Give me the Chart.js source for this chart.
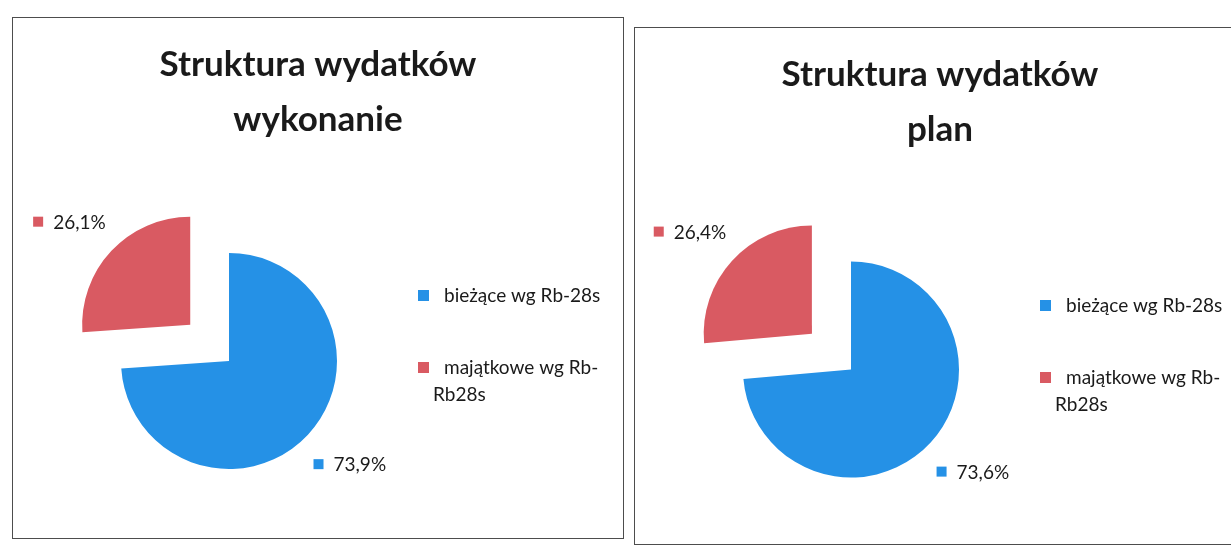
<!DOCTYPE html>
<html>
<head>
<meta charset="utf-8">
<script src="https://cdn.jsdelivr.net/npm/chart.js@4.4.1/dist/chart.umd.min.js"></script>
<style>
  body { margin: 0; background: #fff; width: 1231px; height: 545px; overflow: hidden; position: relative; }
  .panel { position: absolute; border: 1.5px solid #4d4d4d; background: #fff; }
  #p1 { left: 12px; top: 17px; width: 610px; height: 520px; }
  #p2 { left: 634px; top: 27px; width: 610px; height: 516px; }
  canvas { display: block; }
</style>
</head>
<body>
<div class="panel" id="p1"><canvas id="chart1" width="610" height="520"></canvas></div>
<div class="panel" id="p2"><canvas id="chart2" width="610" height="516"></canvas></div>
<script>
// categories (legend) and values for both charts
const categories = ["bieżące wg Rb-28s", "majątkowe wg Rb-Rb28s"];
const legendLines = [["bieżące wg Rb-28s"], ["majątkowe wg Rb-", "Rb28s"]];
const wykonanie = [73.9, 26.1];
const plan = [73.6, 26.4];
const titles = [["Struktura wydatków", "wykonanie"], ["Struktura wydatków", "plan"]];
const colors = ["#2591e6", "#d95a62"];

const FONT = "Lato, 'Open Sans', sans-serif";

// two-line title centred on the whole panel
const panelTitle = {
  id: "panelTitle",
  afterDraw(chart, args, opts) {
    const ctx = chart.ctx;
    ctx.save();
    ctx.font = "bold 35px " + FONT;
    ctx.fillStyle = "#1a1a1a";
    ctx.textAlign = "center";
    ctx.textBaseline = "alphabetic";
    opts.lines.forEach((t, i) => ctx.fillText(t, chart.width / 2, 58 + i * 55));
    ctx.restore();
  }
};

// percentage labels with a colour key, placed along each slice's middle
const sliceLabels = {
  id: "sliceLabels",
  afterDatasetsDraw(chart) {
    const ctx = chart.ctx;
    const meta = chart.getDatasetMeta(0);
    const values = chart.data.datasets[0].data;
    ctx.save();
    ctx.font = "19px " + FONT;
    ctx.textBaseline = "middle";
    meta.data.forEach((arc, i) => {
      const p = arc.getProps(["x", "y", "startAngle", "endAngle", "outerRadius"], true);
      const mid = (p.startAngle + p.endAngle) / 2;
      const off = (arc.options.offset || 0) / 4;
      const cx = p.x + Math.cos(mid) * off;
      const cy = p.y + Math.sin(mid) * off;
      const lx = cx + Math.cos(mid) * p.outerRadius * 1.53;
      const ly = cy + Math.sin(mid) * p.outerRadius * 1.4;
      const txt = values[i].toFixed(1).replace(".", ",") + "%";
      const tw = ctx.measureText(txt).width;
      const total = 10 + 10 + tw;
      const x0 = lx - total / 2;
      ctx.fillStyle = colors[i];
      ctx.fillRect(x0, ly - 5, 10, 10);
      ctx.fillStyle = "#1a1a1a";
      ctx.textAlign = "left";
      ctx.fillText(txt, x0 + 20, ly + 1);
    });
    ctx.restore();
  }
};

// legend on the right, second entry wraps like in the original
const sideLegend = {
  id: "sideLegend",
  afterDraw(chart) {
    const ctx = chart.ctx;
    const x = chart.width - 205;
    const y = [277, 349];
    ctx.save();
    ctx.font = "19px " + FONT;
    ctx.textBaseline = "middle";
    legendLines.forEach((lines, i) => {
      ctx.fillStyle = colors[i];
      ctx.fillRect(x, y[i] - 5, 11, 11);
      ctx.fillStyle = "#1a1a1a";
      ctx.fillText(lines[0], x + 26, y[i] + 1);
      if (lines[1]) ctx.fillText(lines[1], x + 15, y[i] + 28);
    });
    ctx.restore();
  }
};

function makeChart(id, values, title, padTop) {
  return new Chart(document.getElementById(id), {
    type: "pie",
    plugins: [sliceLabels, sideLegend, panelTitle],
    data: {
      labels: categories,
      datasets: [{
        data: values,
        backgroundColor: colors,
        borderWidth: 0,
        offset: [0, 212],
        radius: 108
      }]
    },
    options: {
      responsive: false,
      animation: false,
      layout: { padding: { left: 0, right: 178, top: padTop, bottom: 0 } },
      plugins: {
        legend: { display: false },
        tooltip: { enabled: false },
        title: { display: false },
        panelTitle: { lines: title }
      }
    }
  });
}

makeChart("chart1", wykonanie, titles[0], 166);
makeChart("chart2", plan, titles[1], 167);
</script>
</body>
</html>
